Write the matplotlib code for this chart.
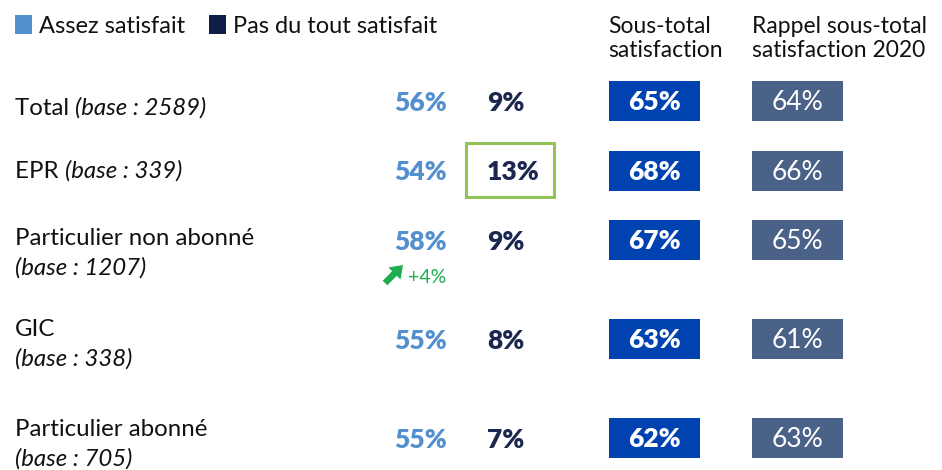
import matplotlib
matplotlib.use("Agg")
import matplotlib.pyplot as plt
from matplotlib.patches import Rectangle, FancyArrow

plt.rcParams['font.family'] = ['Lato', 'DejaVu Sans']

# Data
categories = ["Total", "EPR", "Particulier non abonné", "GIC", "Particulier abonné"]
bases = [2589, 339, 1207, 338, 705]
assez_satisfait = [56, 54, 58, 55, 55]
pas_du_tout = [9, 13, 9, 8, 7]
sous_total = [65, 68, 67, 63, 62]
rappel_2020 = [64, 66, 65, 61, 63]
evolution = [None, None, 4, None, None]      # significant change vs 2020
highlighted = [False, True, False, False, False]

legend_labels = ["Assez satisfait", "Pas du tout satisfait"]
header_sous_total = "Sous-total\nsatisfaction"
header_rappel = "Rappel sous-total\nsatisfaction 2020"

# Colours
C_LIGHT = "#5590CE"
C_NAVY = "#0F1E48"
C_TEXT_NAVY = "#1C2750"
C_BOX = "#0043B0"
C_BOX_OLD = "#4A6188"
C_GREEN_BORDER = "#93C356"
C_GREEN = "#1DAE50"

# Layout (pixel space of the figure)
W, H = 942, 470
row_y = [101, 170.5, 240, 339, 438]
label_y = [115, 178, 245, 336, 436]
two_lines = [False, False, True, True, True]
line_gap = 30

fig = plt.figure(figsize=(W / 100, H / 100), dpi=100)
ax = fig.add_axes([0, 0, 1, 1])
ax.set_xlim(0, W)
ax.set_ylim(H, 0)
ax.axis("off")

FS = 16.5
FS_LABEL = 17.3
FS_PCT = 19

# Legend
for x0, col, lab in zip([15, 209], [C_LIGHT, C_NAVY], legend_labels):
    ax.add_patch(Rectangle((x0, 15), 17, 19, color=col, lw=0))
    ax.text(x0 + 24, 33, lab, fontsize=17, color="#111111", va="baseline")

# Column headers
ax.text(608, 57, header_sous_total, fontsize=FS, color="#111111", va="baseline",
        linespacing=1.2)
ax.text(752, 57, header_rappel, fontsize=FS, color="#111111", va="baseline",
        linespacing=1.2)

for i, cat in enumerate(categories):
    yc = row_y[i]
    base_txt = f"(base : {bases[i]})"

    # Row label
    t = ax.text(15, label_y[i], cat if two_lines[i] else cat + " ",
                fontsize=FS_LABEL, color="#111111", va="baseline")
    if two_lines[i]:
        ax.text(15, label_y[i] + line_gap, base_txt, fontsize=FS_LABEL, color="#111111",
                style="italic", va="baseline")
    else:
        ax.annotate(base_txt, xy=(1, 0), xycoords=t, fontsize=FS_LABEL, color="#111111",
                    style="italic", va="bottom", ha="left")

    # Assez satisfait / Pas du tout satisfait
    ax.text(447, yc + 10, f"{assez_satisfait[i]}%", fontsize=FS_PCT, fontweight="heavy",
            color=C_LIGHT, ha="right", va="baseline")
    ax.text(487, yc + 10, f"{pas_du_tout[i]}%", fontsize=FS_PCT, fontweight="heavy",
            color=C_TEXT_NAVY, ha="left", va="baseline")
    if highlighted[i]:
        ax.add_patch(Rectangle((465.5, yc - 28), 88, 54, fill=False,
                               edgecolor=C_GREEN_BORDER, lw=2.2))

    if evolution[i] is not None:
        ax.add_patch(FancyArrow(385, yc + 43, 18, -18, width=6.5, head_width=17,
                                head_length=12, length_includes_head=True,
                                color=C_GREEN, lw=0))
        ax.text(408, yc + 43, f"+{evolution[i]}%", fontsize=14, color=C_GREEN,
                va="baseline")

    # Sous-total boxes
    ax.add_patch(Rectangle((609, yc - 20), 91, 40, color=C_BOX, lw=0))
    ax.text(654.5, yc + 9, f"{sous_total[i]}%", fontsize=FS_PCT, fontweight="heavy",
            color="white", ha="center", va="baseline")
    ax.add_patch(Rectangle((752, yc - 20), 91, 40, color=C_BOX_OLD, lw=0))
    ax.text(797.5, yc + 9, f"{rappel_2020[i]}%", fontsize=FS_PCT, color="white",
            ha="center", va="baseline")

fig.savefig("out.png", dpi=100)
